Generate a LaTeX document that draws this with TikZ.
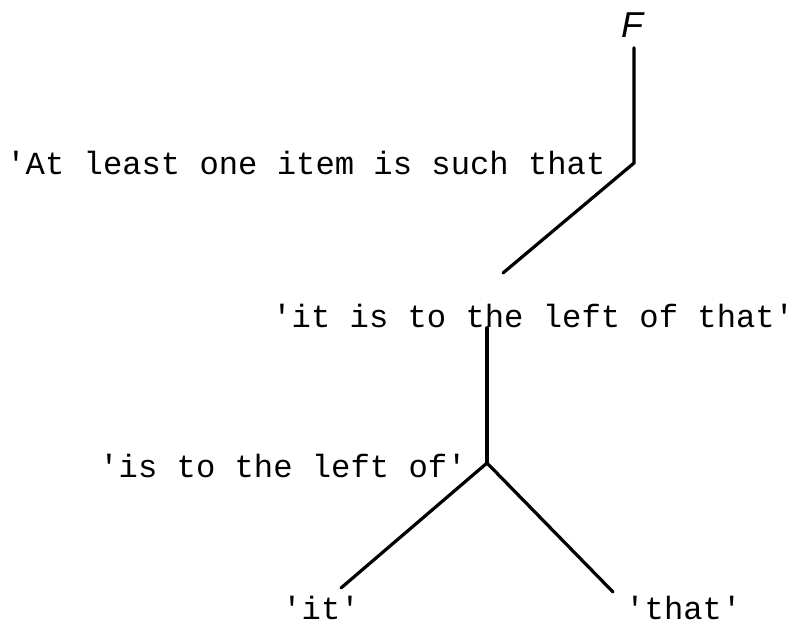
\documentclass[tikz,border=0pt]{standalone}
\usepackage{fontspec}
\setmonofont{Liberation Mono}
\setsansfont{Liberation Sans}
\usetikzlibrary{positioning}

\tikzset{
  gloss/.style={anchor=base west, inner sep=0pt},
  branch/.style={line width=1.6pt, line cap=round}
}

\begin{document}
\begin{tikzpicture}[x=0.5pt, y=-0.5pt, font=\ttfamily\fontsize{16.1}{19}\selectfont]
  \useasboundingbox (0,0) rectangle (798,626);
  % top of the tree
  \node[inner sep=5pt, font=\sffamily\itshape\fontsize{18}{20}\selectfont] (F) at (632,25) {F};
  \node[gloss] (quant) at (6,175) {'At least one item is such that};
  \coordinate (bend) at (634,163);
  \coordinate (qend) at (503,273);
  \draw[branch] (F.south -| bend) -- (bend) -- (qend);
  % the open sentence
  \node[gloss] (pred) at (272,327) {'it is to the left of that'};
  \coordinate (split) at (487,463);
  \draw[branch] (split |- pred.south) -- (split);
  \node[gloss] (rel) at (99,477) {'is to the left of'};
  % the two arguments
  \node[gloss] (itarg) at (282,619) {'it'};
  \node[gloss] (thatarg) at (625,619) {'that'};
  \coordinate (itend) at (341,588);
  \coordinate (thatend) at (613,592);
  \draw[branch] (split) -- (itend);
  \draw[branch] (split) -- (thatend);
\end{tikzpicture}
\end{document}
